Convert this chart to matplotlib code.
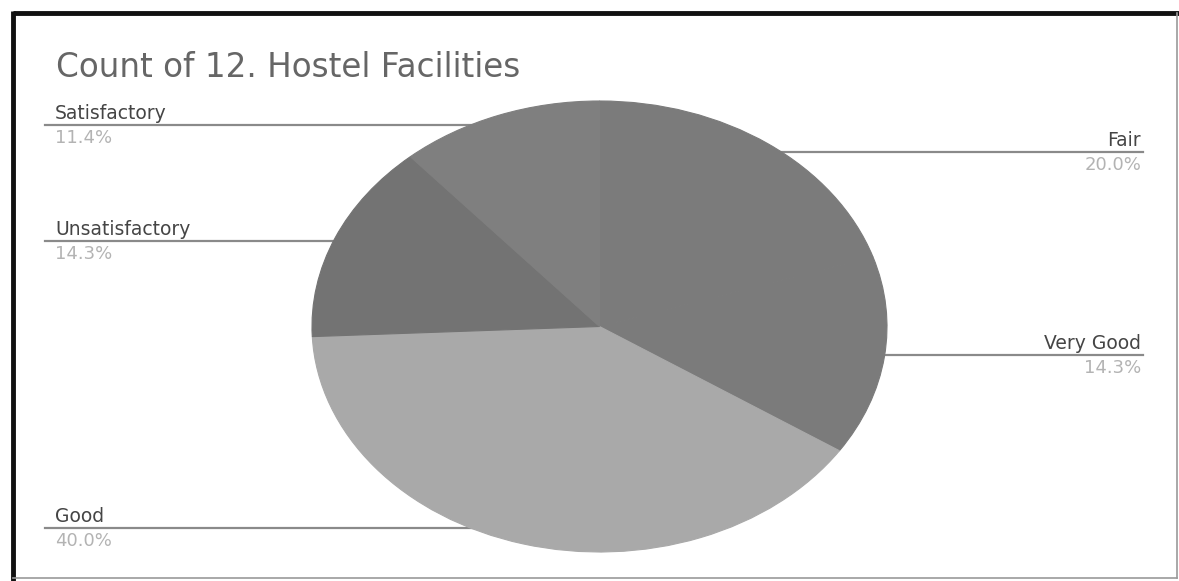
import matplotlib
matplotlib.use("Agg")
import matplotlib.pyplot as plt
from matplotlib.lines import Line2D

# ---- data ----
categories = ["Fair", "Very Good", "Good", "Unsatisfactory", "Satisfactory"]
counts = [7, 5, 14, 5, 4]
pct_labels = ["20.0%", "14.3%", "40.0%", "14.3%", "11.4%"]
title = "Count of 12. Hostel Facilities"

colors = ["#7b7b7b", "#7b7b7b", "#a9a9a9", "#737373", "#7f7f7f"]

W, H = 1179, 581
fig = plt.figure(figsize=(W / 100, H / 100), dpi=100)
fig.patch.set_facecolor("white")

# overlay axes in pixel coordinates (behind pie)
bg = fig.add_axes([0, 0, 1, 1], zorder=0)
bg.set_xlim(0, W)
bg.set_ylim(H, 0)
bg.axis("off")

# frame: thick black top/left, thin gray right/bottom
bg.add_line(Line2D([13, W], [13, 13], color="#111111", lw=3.5, solid_capstyle="butt"))
bg.add_line(Line2D([13, 13], [11, H], color="#111111", lw=3.5, solid_capstyle="butt"))
bg.add_line(Line2D([1177, 1177], [13, 578], color="#9a9a9a", lw=1.2))
bg.add_line(Line2D([13, 1177], [578, 578], color="#9a9a9a", lw=1.2))

bg.text(56, 77, title, fontsize=23.5, color="#666666", family="DejaVu Sans",
        ha="left", va="baseline")

# label layout: (x, line_y, side, line_end_x)
layout = {
    "Fair": (1141, 152, "right", 700),
    "Very Good": (1141, 355, "right", 800),
    "Good": (55, 528, "left", 560),
    "Unsatisfactory": (55, 241, "left", 420),
    "Satisfactory": (55, 125, "left", 520),
}
for cat, pct in zip(categories, pct_labels):
    x, y, side, xe = layout[cat]
    x0 = 45 if side == "left" else 1143
    bg.add_line(Line2D([x0, xe], [y, y], color="#8a8a8a", lw=1.6))
    bg.text(x, y - 6, cat, fontsize=13.5, color="#454545", family="DejaVu Sans",
            ha=side, va="baseline")
    bg.text(x, y + 4, pct, fontsize=13, color="#b3b3b3", family="DejaVu Sans",
            ha=side, va="top")

# elliptical pie: axes box equals ellipse bbox
left, right, top, bottom = 312, 887, 101, 552
ax = fig.add_axes([left / W, (H - bottom) / H, (right - left) / W, (bottom - top) / H],
                  zorder=1)
ax.patch.set_alpha(0)
wedges, _ = ax.pie(counts, colors=colors, startangle=90, counterclock=False, radius=1)
for w in wedges:
    w.set_edgecolor(w.get_facecolor())
    w.set_linewidth(0.8)
ax.set_aspect("auto")
ax.set_xlim(-1, 1)
ax.set_ylim(-1, 1)
ax.axis("off")

fig.savefig("out.png", dpi=100, facecolor="white")
